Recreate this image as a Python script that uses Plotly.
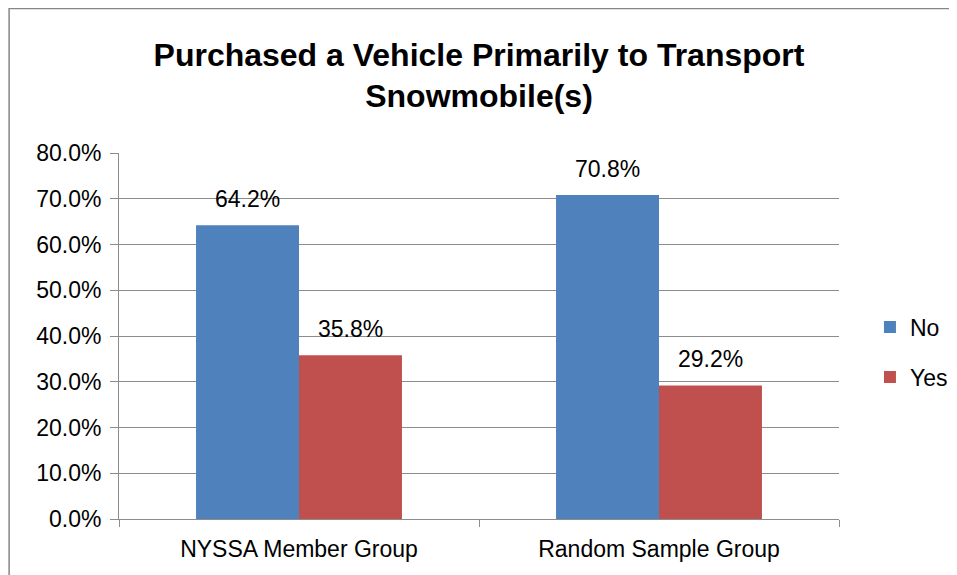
import plotly.graph_objects as go

categories = ["NYSSA Member Group", "Random Sample Group"]
no_values = [0.642, 0.708]
yes_values = [0.358, 0.292]
y_ticks = [0, 0.1, 0.2, 0.3, 0.4, 0.5, 0.6, 0.7, 0.8]

blue = "#4F81BD"
red = "#C0504D"
grid = "#8C8C8C"
font_main = "Liberation Sans, Arial, sans-serif"

fig = go.Figure()
fig.add_trace(go.Bar(name="No", x=categories, y=no_values, marker_color=blue,
                     marker_line_width=0, legendgroup="no"))
fig.add_trace(go.Bar(name="Yes", x=categories, y=yes_values, marker_color=red,
                     marker_line_width=0, legendgroup="yes"))

bargap = 0.428
half = (1 - bargap) / 4
for i in range(len(categories)):
    for off, vals in ((-half, no_values), (half, yes_values)):
        fig.add_annotation(x=i + off, y=vals[i], xref="x", yref="y",
                           text=f"{vals[i]*100:.1f}%", showarrow=False,
                           yanchor="middle", yshift=26,
                           font=dict(size=23, color="#000000", family=font_main))

# page is offset by the 8px body margin, so work in figure coordinates
L, T = 111, 145
W, H = 957, 575
pw, ph = 724, 366
R = W - L - pw
B = H - T - ph
fig.add_shape(type="rect", xref="paper", yref="paper",
              x0=(0.5 - L) / pw, x1=1.5, y0=-0.5, y1=1 + (T - 0.5) / ph,
              line=dict(color="#868686", width=1.5), fillcolor="rgba(0,0,0,0)",
              layer="below")

fig.update_layout(
    width=W, height=H,
    margin=dict(l=L, r=R, t=T, b=B),
    paper_bgcolor="white", plot_bgcolor="white",
    barmode="group", bargap=bargap, bargroupgap=0,
    title=dict(text="Purchased a Vehicle Primarily to Transport<br>Snowmobile(s)",
               x=0.5, xref="paper", xanchor="center", y=0.9, yanchor="top",
               font=dict(size=32, color="#000000", family=font_main, weight="bold")),
    font=dict(family=font_main, size=23, color="#000000"),
    legend=dict(x=1.043, y=0.456, xanchor="left", yanchor="middle",
                font=dict(size=23), tracegroupgap=17, traceorder="grouped",
                bgcolor="rgba(0,0,0,0)"),
    xaxis=dict(showgrid=False, showline=True, linecolor=grid, linewidth=1,
               ticks="outside", tickson="boundaries", ticklen=7, tickcolor=grid,
               tickfont=dict(size=23), ticklabelstandoff=9),
    yaxis=dict(range=[0, 0.8], tickvals=y_ticks, tickformat=".1%",
               showgrid=True, gridcolor=grid, gridwidth=1,
               showline=True, linecolor=grid, linewidth=1,
               ticks="outside", ticklen=8, tickcolor=grid,
               tickfont=dict(size=23), zeroline=False, ticklabelstandoff=4),
)

fig.write_html("out.html")
